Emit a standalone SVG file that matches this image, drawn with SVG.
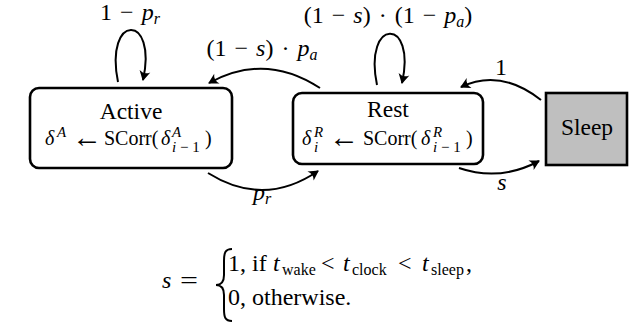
<svg xmlns="http://www.w3.org/2000/svg" width="637" height="331" viewBox="0 0 637 331">
<defs>
<marker id="arr" markerUnits="userSpaceOnUse" markerWidth="14" markerHeight="14" refX="0" refY="0" viewBox="-10 -7 12 14" orient="auto">
<path d="M1,0 L-9,-5.5 Q-5,0 -9,5.5 Z" fill="#000"/>
</marker>
</defs>
<style>
text{font-family:"Liberation Serif","Times New Roman",serif;fill:#000}
.t{font-size:23.5px}
.m{font-size:20px}
.s{font-size:15px}
.i{font-style:italic}
.ar{font-size:30px}
.lab{font-size:24px;word-spacing:2px}
.eq{font-size:24px}
.sb{font-size:16px}
.node{fill:#fff;stroke:#000;stroke-width:2.6}
.edge{fill:none;stroke:#000;stroke-width:2;marker-end:url(#arr)}
</style>
<rect width="637" height="331" fill="#fff"/>
<g id="connectors">
<path class="edge" d="M118,82 C104,13 158,13 143,80"/>
<path class="edge" d="M377,85 C363,17 417,17 402,83"/>
<path class="edge" d="M320,88 Q265,52 209,83"/>
<path class="edge" d="M208,173 Q264,208 318,171"/>
<path class="edge" d="M541,100 Q500,68 461,87"/>
<path class="edge" d="M459,168 Q500,182 539,161"/>
<text class="lab" x="130" y="20" text-anchor="middle">1 − <tspan class="i">p</tspan><tspan class="i sb" dy="4">r</tspan></text>
<text class="lab" x="388" y="23" text-anchor="middle">(1 − <tspan class="i">s</tspan>) · (1 − <tspan class="i">p</tspan><tspan class="i sb" dy="4">a</tspan><tspan dy="-4">)</tspan></text>
<text class="lab" x="262" y="56" text-anchor="middle">(1 − <tspan class="i">s</tspan>) · <tspan class="i">p</tspan><tspan class="i sb" dy="4">a</tspan></text>
<text class="lab" x="262" y="200" text-anchor="middle"><tspan class="i">p</tspan><tspan class="i sb" dy="4">r</tspan></text>
<text class="lab" x="501" y="75" text-anchor="middle">1</text>
<text class="lab i" x="502" y="190" text-anchor="middle">s</text>
</g>
<g id="active">
<rect class="node" x="30" y="88" width="202" height="80" rx="9"/>
<text class="t" x="131" y="119" text-anchor="middle">Active</text>
<text class="m"><tspan class="i" x="45" y="145">δ</tspan><tspan class="s i" x="57" y="137">A</tspan><tspan class="ar" x="72" y="147">←</tspan><tspan x="104" y="145">SCorr(</tspan><tspan class="i" x="161" y="145">δ</tspan><tspan class="s i" x="172" y="137">A</tspan><tspan class="s" x="172" y="152"><tspan class="i">i</tspan> − 1</tspan><tspan x="205" y="145">)</tspan></text>
</g>
<g id="rest">
<rect class="node" x="293" y="93" width="190" height="71" rx="9"/>
<text class="t" x="388" y="117" text-anchor="middle">Rest</text>
<text class="m"><tspan class="i" x="302" y="145">δ</tspan><tspan class="s i" x="314" y="137">R</tspan><tspan class="s i" x="314" y="152">i</tspan><tspan class="ar" x="329" y="147">←</tspan><tspan x="363" y="145">SCorr(</tspan><tspan class="i" x="421" y="145">δ</tspan><tspan class="s i" x="433" y="137">R</tspan><tspan class="s" x="433" y="152"><tspan class="i">i</tspan> − 1</tspan><tspan x="466" y="145">)</tspan></text>
</g>
<g id="sleep">
<rect x="546" y="93" width="81" height="72" fill="#bfbfbf" stroke="#000" stroke-width="2.6"/>
<text class="t" x="587" y="135" text-anchor="middle">Sleep</text>
</g>
<g id="equation">
<text class="eq" y="288"><tspan class="i" x="162">s</tspan><tspan x="180" textLength="18" lengthAdjust="spacingAndGlyphs">=</tspan></text>
<path d="M232,249 C225,249 224,253 224,261 L224,275 C224,281 222,285 216,285 C222,285 224,289 224,295 L224,309 C224,317 225,321 232,321" fill="none" stroke="#000" stroke-width="2"/>
<text class="eq" y="271"><tspan x="228">1, if</tspan><tspan class="i" x="273">t</tspan><tspan class="sb" x="282" dy="4">wake</tspan><tspan x="321" dy="-4">&lt;</tspan><tspan class="i" x="343">t</tspan><tspan class="sb" x="352" dy="4">clock</tspan><tspan x="398" dy="-4">&lt;</tspan><tspan class="i" x="422">t</tspan><tspan class="sb" x="431" dy="4">sleep</tspan><tspan x="466" dy="-4">,</tspan></text>
<text class="eq" x="228" y="305">0, otherwise.</text>
</g>
</svg>
